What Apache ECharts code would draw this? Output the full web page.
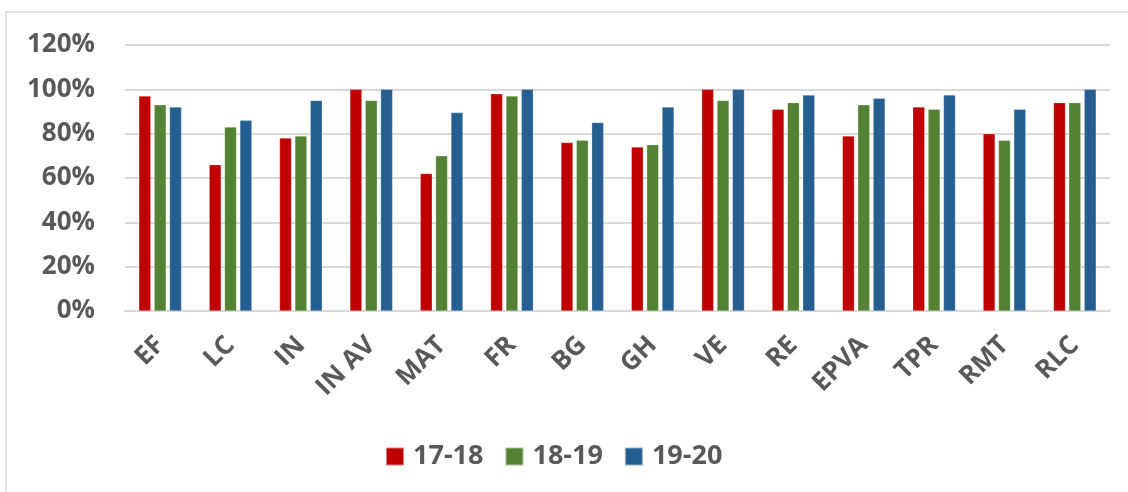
<!DOCTYPE html>
<html>
<head>
<meta charset="utf-8">
<script src="https://cdn.jsdelivr.net/npm/echarts@6/dist/echarts.min.js"></script>
<style>
  html, body { margin: 0; padding: 0; background: #fff; }
  #chart { width: 1128px; height: 492px; }
</style>
</head>
<body>
<div id="chart"></div>
<script>
// Categories and values (percent)
const categories = ['EF', 'LC', 'IN', 'IN AV', 'MAT', 'FR', 'BG', 'GH', 'VE', 'RE', 'EPVA', 'TPR', 'RMT', 'RLC'];
const y1718 = [97, 66, 78, 100, 62, 98, 76, 74, 100, 91, 79, 92, 80, 94];
const y1819 = [93, 83, 79, 95, 70, 97, 77, 75, 95, 94, 93, 91, 77, 94];
const y1920 = [92, 86, 95, 100, 89.5, 100, 85, 92, 100, 97.5, 96, 97.5, 91, 100];

const FONT = '"Open Sans", "Liberation Sans", sans-serif';
const TEXT = '#595959';

const chart = echarts.init(document.getElementById('chart'));

const bar = (name, data, color) => ({
    name,
    type: 'bar',
    data,
    barWidth: 12,
    barGap: '28%',
    itemStyle: { color, borderColor: 'rgba(255,255,255,0.5)', borderWidth: 0.5 },
});

chart.setOption({
    animation: false,
    graphic: [{
        type: 'rect',
        shape: { x: 6, y: 12, width: 1140, height: 500 },
        style: { fill: 'none', stroke: '#d9d9d9', lineWidth: 1.5 },
        silent: true,
    }],
    grid: { left: 125, right: 18, top: 45, bottom: 181 },
    legend: {
        left: 380,
        top: 438,
        itemWidth: 18,
        itemHeight: 18,
        itemGap: 21,
        icon: 'rect',
        textStyle: { fontFamily: FONT, fontWeight: 'bold', fontSize: 27, color: TEXT, padding: [0, 0, 0, 4] },
        data: ['17-18', '18-19', '19-20'],
    },
    xAxis: {
        type: 'category',
        data: categories,
        axisLine: { lineStyle: { color: '#d9d9d9', width: 2 } },
        axisTick: { show: false },
        axisLabel: {
            rotate: 45,
            margin: 30,
            interval: 0,
            fontFamily: FONT,
            fontWeight: 'bold',
            fontSize: 26,
            color: TEXT,
        },
    },
    yAxis: {
        type: 'value',
        min: 0,
        max: 120,
        interval: 20,
        axisLine: { show: false },
        axisTick: { show: false },
        splitLine: { lineStyle: { color: '#d9d9d9', width: 2 } },
        axisLabel: {
            formatter: '{value}%',
            margin: 30,
            fontFamily: FONT,
            fontWeight: 'bold',
            fontSize: 26,
            color: TEXT,
        },
    },
    series: [
        bar('17-18', y1718, '#C00000'),
        bar('18-19', y1819, '#548235'),
        bar('19-20', y1920, '#255E91'),
    ],
});
</script>
</body>
</html>
